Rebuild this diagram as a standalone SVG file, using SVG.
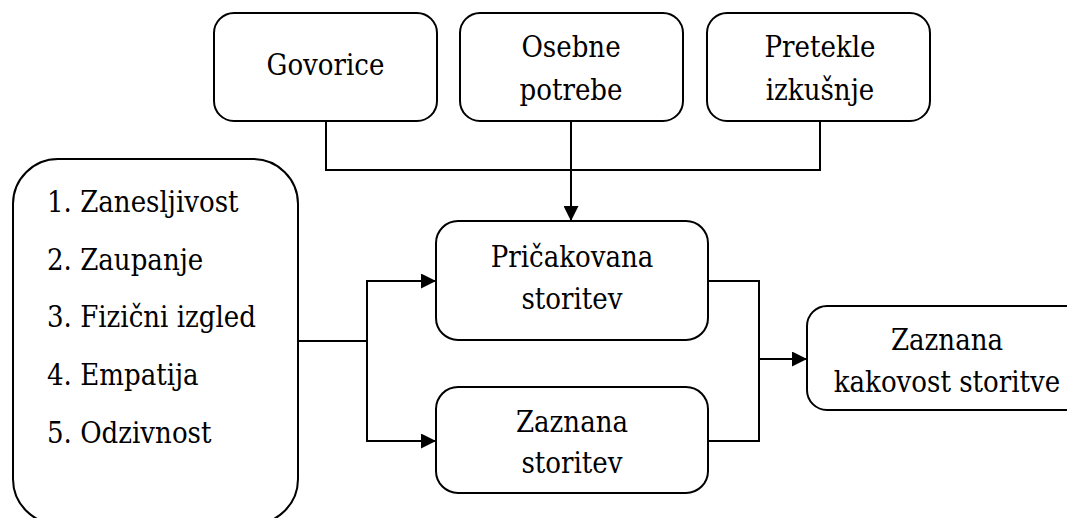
<svg xmlns="http://www.w3.org/2000/svg" width="1067" height="518" viewBox="0 0 1067 518">
  <style>
    .box { fill: #ffffff; stroke: #000000; stroke-width: 2; }
    .wire { fill: none; stroke: #000000; stroke-width: 2; }
    .t { font-family: "DejaVu Serif Condensed", "DejaVu Serif", "Liberation Serif", serif; font-stretch: condensed; font-size: 29px; fill: #000000; }
    .c { text-anchor: middle; }
  </style>
  <defs>
    <marker id="arrow" viewBox="0 0 15 15" refX="15" refY="7.5" markerWidth="15" markerHeight="15" markerUnits="userSpaceOnUse" orient="auto">
      <path d="M0,0 L15,7.5 L0,15 Z" fill="#000000"/>
    </marker>
  </defs>

  <rect width="1067" height="518" fill="#ffffff"/>

  <!-- connectors -->
  <g id="connectors">
    <polyline class="wire" points="326,121 326,170 820,170 820,121"/>
    <line class="wire" x1="571" y1="121" x2="571" y2="221" marker-end="url(#arrow)"/>
    <polyline class="wire" points="298,341 367,341"/>
    <polyline class="wire" points="367,341 367,281 436,281" marker-end="url(#arrow)"/>
    <polyline class="wire" points="367,341 367,441 436,441" marker-end="url(#arrow)"/>
    <polyline class="wire" points="708,281 759,281 759,441 708,441"/>
    <line class="wire" x1="759" y1="359" x2="807" y2="359" marker-end="url(#arrow)"/>
  </g>

  <g id="govorice">
    <rect class="box" x="214" y="13" width="223" height="108" rx="20"/>
    <text class="t c" x="325.5" y="75">Govorice</text>
  </g>

  <g id="osebne-potrebe">
    <rect class="box" x="460" y="13" width="223" height="108" rx="20"/>
    <text class="t c" x="571" y="57">Osebne</text>
    <text class="t c" x="571" y="100">potrebe</text>
  </g>

  <g id="pretekle-izkusnje">
    <rect class="box" x="707" y="13" width="223" height="108" rx="20"/>
    <text class="t c" x="820" y="57">Pretekle</text>
    <text class="t c" x="820" y="100">izkušnje</text>
  </g>

  <g id="dimenzije">
    <rect class="box" x="13" y="159" width="285" height="365" rx="45"/>
    <text class="t" x="47" y="212">1. Zanesljivost</text>
    <text class="t" x="47" y="270">2. Zaupanje</text>
    <text class="t" x="47" y="327">3. Fizični izgled</text>
    <text class="t" x="47" y="385">4. Empatija</text>
    <text class="t" x="47" y="443">5. Odzivnost</text>
  </g>

  <g id="pricakovana-storitev">
    <rect class="box" x="436" y="221" width="272" height="119" rx="22"/>
    <text class="t c" x="572" y="267">Pričakovana</text>
    <text class="t c" x="572" y="309">storitev</text>
  </g>

  <g id="zaznana-storitev">
    <rect class="box" x="436" y="387" width="272" height="106" rx="22"/>
    <text class="t c" x="572" y="432">Zaznana</text>
    <text class="t c" x="572" y="473">storitev</text>
  </g>

  <g id="zaznana-kakovost">
    <rect class="box" x="807" y="306" width="280" height="104" rx="20"/>
    <text class="t c" x="947" y="350">Zaznana</text>
    <text class="t c" x="947" y="392">kakovost storitve</text>
  </g>
</svg>
